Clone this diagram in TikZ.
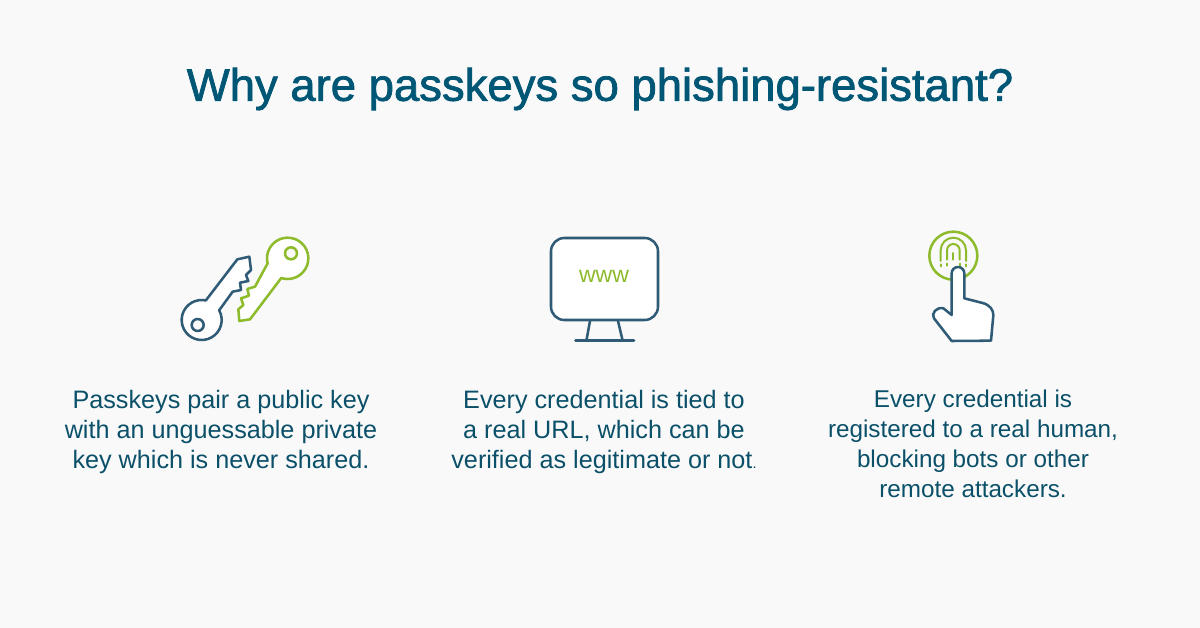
\documentclass[tikz,border=0pt]{standalone}
\usepackage{fontspec}
\setmainfont{Liberation Sans}
\newfontfamily\titlefont[FakeBold=1.6]{Liberation Sans}
\definecolor{pagebg}{HTML}{F9F9F9}
\definecolor{inkteal}{HTML}{0B5069}
\definecolor{titleteal}{HTML}{005675}
\definecolor{keyblue}{HTML}{2F5B76}
\definecolor{leaf}{HTML}{8DBB2B}
\tikzset{
  x=0.75pt,y=-0.75pt,
  bodytext/.style={text=inkteal,align=center,font=\fontsize{18.9}{22.5}\selectfont,inner sep=0pt},
  titletext/.style={text=titleteal,font=\titlefont\fontsize{34.1}{38}\selectfont,inner sep=0pt},
  blueline/.style={draw=keyblue,line width=1.9pt,line join=round,line cap=round},
  greenline/.style={draw=leaf,line width=1.9pt,line join=round,line cap=round},
}
\begin{document}
\begin{tikzpicture}
\fill[pagebg] (0,0) rectangle (1200,628);
\useasboundingbox (0,0) rectangle (1200,628);
\node[titletext] (title) at (600,89) {Why are passkeys so phishing-resistant?};
\node[bodytext,anchor=north] (col1) at (221,390) {Passkeys pair a public key\\with an unguessable private\\key which is never shared.};
\node[bodytext,anchor=north] (col2) at (604,390) {Every credential is tied to\\a real URL, which can be\\verified as legitimate or not{\fontsize{11}{11}\selectfont.}};
\node[bodytext,anchor=north,font=\fontsize{18.2}{22.5}\selectfont] (col3) at (973,390) {Every credential is\\registered to a real human,\\blocking bots or other\\remote attackers.};
% keys
\begin{scope}[shift={(160,220)},x=0.25pt,y=-0.25pt]
\path[blueline,fill=white] (125,300) ++(-29:60) arc (-29:282:60) -- (232,118) -- (268,110) -- (273,150) -- (258,165) -- (265,183) -- (240,188) -- (243,210) -- (218,215) -- cycle;
\draw[blueline,fill=pagebg] (113,315) circle (18);
\path[greenline,fill=white] (383,115) ++(166:62) arc (166:468:62) -- (270,298) -- (238,303) -- (235,268) -- (250,255) -- (243,235) -- (267,227) -- (262,207) -- (285,200) -- cycle;
\draw[greenline,fill=pagebg] (393,100) circle (18);
\end{scope}
% monitor
\draw[blueline,fill=white,rounded corners=10pt] (551,238) rectangle (658,320);
\draw[blueline] (590,321) -- (586.5,340) (618,321) -- (622.5,340);
\draw[blueline] (575.5,340.5) -- (634,340.5);
\node[text=leaf,inner sep=0pt,font=\fontsize{17.3}{20}\selectfont] (www) at (604,276) {www};
% fingerprint and hand
\begin{scope}[shift={(910,225)},x=0.25pt,y=-0.25pt]
\draw[greenline] (130,92) circle (72);
\draw[greenline,line width=1.5pt] (92,108) -- (92,76) arc (180:360:38) -- (168,108);
\draw[greenline,line width=1.5pt] (111,104) -- (111,76) arc (180:360:19) -- (149,104);
\draw[greenline,line width=1.5pt] (130,84) -- (130,104);
\draw[greenline,line width=1.5pt] (92,118) -- (92,124) (111,116) -- (111,122) (149,116) -- (149,122) (168,118) -- (168,124);
\path[blueline,fill=white] (125,270) -- (125,145) arc (180:360:19) -- (163,220) -- (218,234) .. controls (240,240) and (250,255) .. (250,270) -- (243,347) -- (125,348) -- (72,280) .. controls (62,265) and (80,245) .. (100,250) -- cycle;
\end{scope}
\end{tikzpicture}
\end{document}
